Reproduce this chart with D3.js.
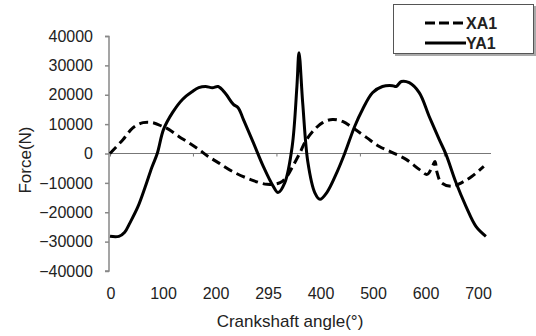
<!DOCTYPE html>
<html>
<head>
<meta charset="utf-8">
<script src="https://cdn.jsdelivr.net/npm/d3@7"></script>
<style>
	body { margin: 0; background: #fff; }
	svg { display: block; font-family: "Liberation Sans", Arial, sans-serif; }
</style>
</head>
<body>
<svg id="chart" width="536" height="336"></svg>
<script>
// crank angle (deg) and force (N)
const xa1_angle = [0, 25, 44, 63, 81, 100, 112, 131, 150, 169, 187, 206, 233, 267, 299, 324, 337, 348, 362, 371, 386, 405, 424, 443, 462, 489, 513, 538, 564, 589, 604, 614, 619, 623, 631, 652, 670, 689, 712];
const xa1_force = [0, 4800, 8800, 10500, 10500, 9200, 8200, 5800, 3700, 1400, -1000, -3100, -6100, -8800, -10500, -9900, -7800, -4400, 300, 3700, 7500, 10500, 11600, 10900, 8800, 5400, 2400, 300, -2000, -5400, -7100, -4400, -2700, -6500, -9900, -11200, -9900, -7800, -4400];

const ya1_angle = [0, 17, 28, 38, 53, 67, 80, 90, 102, 119, 138, 157, 169, 182, 195, 206, 220, 235, 244, 254, 273, 292, 311, 320, 333, 347, 356, 360, 367, 377, 390, 400, 413, 432, 447, 466, 481, 500, 519, 538, 545, 555, 570, 589, 608, 627, 640, 659, 678, 697, 716];
const ya1_force = [-28200, -28200, -26800, -23600, -18200, -11400, -4600, 0, 8200, 13900, 18400, 21100, 22400, 22800, 22400, 22800, 20400, 16700, 15600, 11600, 3700, -4400, -11200, -13300, -9900, 2400, 22800, 34300, 17300, -3100, -13300, -15600, -13300, -6500, 0, 9200, 15000, 20700, 22800, 23100, 22800, 24500, 24100, 20700, 12600, 4800, -300, -9900, -18000, -24800, -28200];

const y_ticks = [40000, 30000, 20000, 10000, 0, -10000, -20000, -30000, -40000];
const x_label_pos = [0, 100, 200, 300, 400, 500, 600, 700];
const x_labels = ["0", "100", "200", "295", "400", "500", "600", "700"];
const x_tick_marks = [0, 158, 317, 476, 636];

const series_names = ["XA1", "YA1"];

function whenDocumentLoaded(action) {
	if (document.readyState === "loading") {
		document.addEventListener("DOMContentLoaded", action);
	} else {
		action();
	}
}

whenDocumentLoaded(() => {
	const svg = d3.select("#chart");

	const x = d3.scaleLinear().domain([0, 720]).range([110, 488]);
	const y = d3.scaleLinear().domain([-40000, 40000]).range([271, 36]);

	// y axis
	const y_axis = d3.axisLeft(y)
		.tickValues(y_ticks)
		.tickSize(4)
		.tickPadding(12)
		.tickFormat(d3.format("d"));

	const y_g = svg.append("g")
		.attr("transform", "translate(109,0)")
		.call(y_axis);
	y_g.select(".domain").attr("stroke", "#888").attr("stroke-width", 1.5).attr("d", "M-4,36.5H0V271H-4");
	y_g.selectAll(".tick line").attr("stroke", "#888").attr("stroke-width", 1.5);
	y_g.selectAll(".tick text")
		.style("font-size", "16px")
		.attr("fill", "#222");

	// zero line with its small tick marks
	const zero_axis = d3.axisBottom(x)
		.tickValues(x_tick_marks)
		.tickSize(3)
		.tickFormat("");
	const zero_g = svg.append("g")
		.attr("transform", "translate(0," + y(0) + ")")
		.call(zero_axis);
	zero_g.select(".domain").attr("stroke", "#777").attr("stroke-width", 1.2).attr("d", "M109,0H491");
	zero_g.selectAll(".tick line").attr("stroke", "#777");

	// category labels along the bottom
	svg.append("g").selectAll(".x-label")
		.data(x_label_pos)
		.enter()
		.append("text")
		.classed("x-label", true)
		.attr("x", (d) => x(d) + 1)
		.attr("y", 299)
		.attr("text-anchor", "middle")
		.style("font-size", "16px")
		.attr("fill", "#222")
		.text((d, i) => x_labels[i]);

	svg.append("text")
		.attr("x", 290)
		.attr("y", 327)
		.attr("text-anchor", "middle")
		.style("font-size", "17px")
		.attr("fill", "#222")
		.text("Crankshaft angle(°)");

	svg.append("text")
		.attr("transform", "translate(31,160) rotate(-90)")
		.attr("text-anchor", "middle")
		.style("font-size", "17px")
		.attr("fill", "#222")
		.text("Force(N)");

	// lines
	const line = d3.line()
		.x((d) => x(d[0]))
		.y((d) => y(d[1]))
		.curve(d3.curveCatmullRom.alpha(0.5));

	const xa1 = d3.zip(xa1_angle, xa1_force);
	const ya1 = d3.zip(ya1_angle, ya1_force);

	svg.append("path")
		.datum(xa1)
		.attr("d", line)
		.attr("fill", "none")
		.attr("stroke", "#000")
		.attr("stroke-width", 3)
		.attr("stroke-dasharray", "9,5");

	svg.append("path")
		.datum(ya1)
		.attr("d", line)
		.attr("fill", "none")
		.attr("stroke", "#000")
		.attr("stroke-width", 3)
		.attr("stroke-linejoin", "round");

	// legend
	const legend = svg.append("g");
	legend.append("rect")
		.attr("x", 395).attr("y", 6)
		.attr("width", 141).attr("height", 50)
		.attr("fill", "#aaa");
	legend.append("rect")
		.attr("x", 393.5).attr("y", 4.5)
		.attr("width", 140).attr("height", 49)
		.attr("fill", "#fff")
		.attr("stroke", "#555")
		.attr("stroke-width", 1);

	const entries = legend.selectAll(".entry")
		.data(series_names)
		.enter()
		.append("g")
		.classed("entry", true)
		.attr("transform", (d, i) => "translate(0," + (23 + i * 20) + ")");
	entries.append("line")
		.attr("x1", 425).attr("x2", 466)
		.attr("stroke", "#000")
		.attr("stroke-width", 3)
		.attr("stroke-dasharray", (d, i) => i === 0 ? "10,4" : null);
	entries.append("text")
		.attr("x", 466)
		.attr("dy", "0.36em")
		.style("font-size", "16px")
		.style("font-weight", "bold")
		.attr("fill", "#222")
		.text((d) => d);
});
</script>
</body>
</html>
